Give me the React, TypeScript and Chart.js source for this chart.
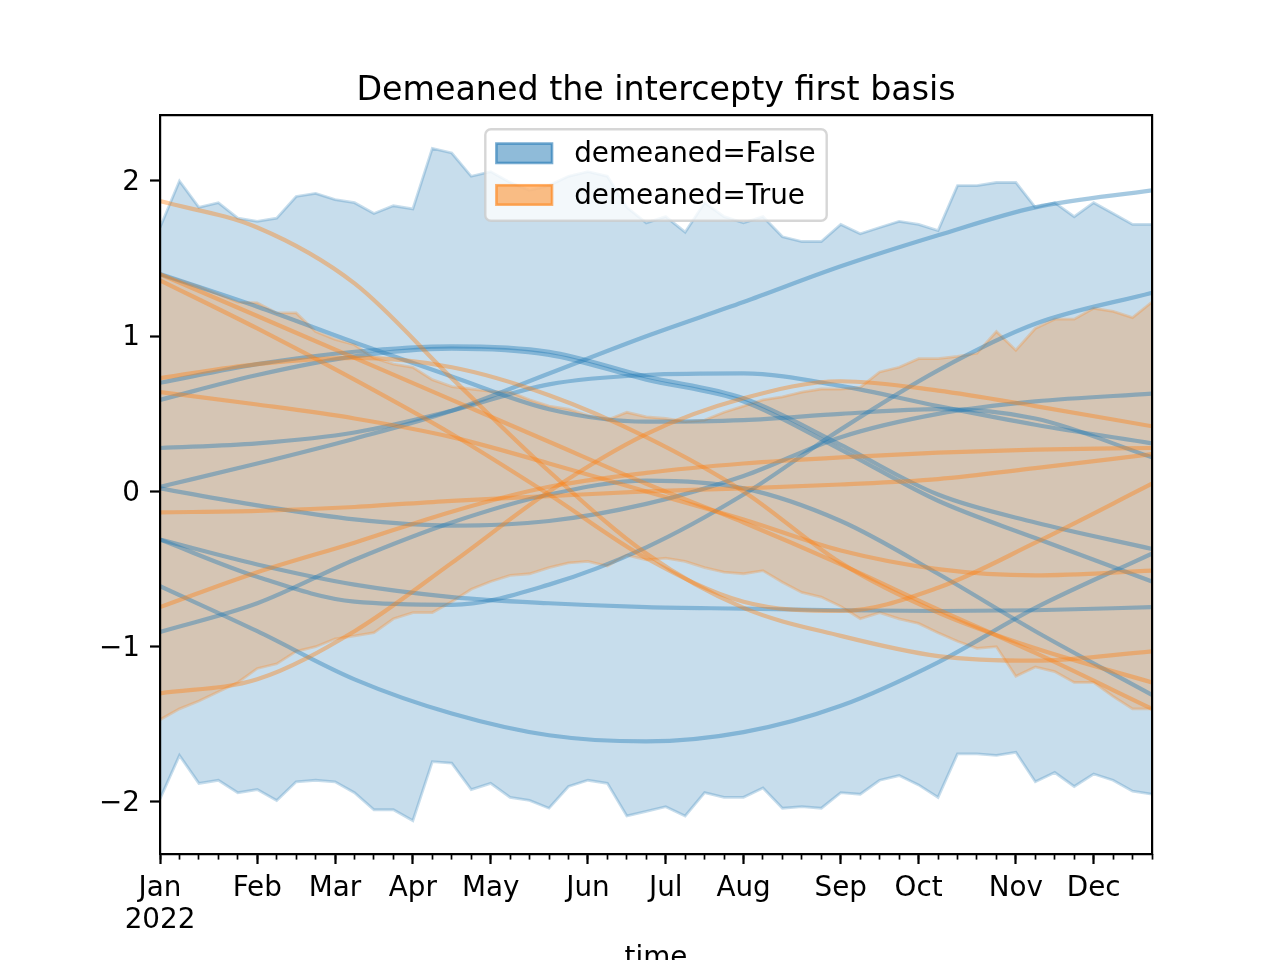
import React, { useEffect, useRef } from 'react';
import { Chart, registerables } from 'chart.js';

Chart.register(...registerables);

const FONT = "'DejaVu Sans', 'Liberation Sans', sans-serif";

// ---- axes / labels ----
const TITLE = 'Demeaned the intercepty first basis';
const X_LABEL = 'time';
const MONTH_TICKS = [0, 5, 9, 13, 17, 22, 26, 30, 35, 39, 44, 48];
const MONTH_LABELS = ['Jan', 'Feb', 'Mar', 'Apr', 'May', 'Jun', 'Jul', 'Aug', 'Sep', 'Oct', 'Nov', 'Dec'];
const YEAR_LABEL = '2022';
const Y_TICKS = [-2, -1, 0, 1, 2];
const LEGEND_LABELS = ['demeaned=False', 'demeaned=True'];

// ---- bands (weekly, 52 weeks) ----
const blueUpper = [1.70, 2.00, 1.83, 1.86, 1.76, 1.74, 1.76, 1.90, 1.92, 1.88, 1.86, 1.79, 1.84, 1.82, 2.21, 2.18, 2.03, 2.06, 1.99, 1.94, 1.97, 2.03, 2.06, 2.03, 1.83, 1.73, 1.77, 1.67, 1.86, 1.77, 1.73, 1.77, 1.64, 1.61, 1.61, 1.72, 1.66, 1.70, 1.74, 1.72, 1.68, 1.97, 1.97, 1.99, 1.99, 1.83, 1.86, 1.77, 1.86, 1.79, 1.72, 1.72];
const blueLower = [-1.98, -1.70, -1.88, -1.86, -1.94, -1.92, -1.99, -1.87, -1.86, -1.87, -1.94, -2.05, -2.05, -2.12, -1.74, -1.75, -1.92, -1.88, -1.97, -1.99, -2.04, -1.90, -1.86, -1.88, -2.09, -2.06, -2.03, -2.09, -1.94, -1.97, -1.97, -1.91, -2.04, -2.03, -2.04, -1.94, -1.95, -1.86, -1.83, -1.89, -1.97, -1.69, -1.69, -1.70, -1.68, -1.87, -1.81, -1.90, -1.82, -1.86, -1.93, -1.95];
const orangeUpper = [1.40, 1.36, 1.32, 1.27, 1.22, 1.215, 1.15, 1.15, 1.03, 0.98, 0.945, 0.86, 0.82, 0.80, 0.72, 0.675, 0.66, 0.645, 0.64, 0.59, 0.55, 0.53, 0.49, 0.46, 0.51, 0.48, 0.47, 0.45, 0.46, 0.51, 0.55, 0.59, 0.61, 0.64, 0.66, 0.66, 0.67, 0.77, 0.80, 0.855, 0.855, 0.87, 0.89, 1.03, 0.91, 1.05, 1.11, 1.11, 1.18, 1.16, 1.12, 1.22];
const orangeLower = [-1.47, -1.40, -1.35, -1.29, -1.23, -1.14, -1.11, -1.03, -1.00, -0.95, -0.93, -0.91, -0.82, -0.78, -0.78, -0.71, -0.63, -0.58, -0.54, -0.53, -0.49, -0.46, -0.45, -0.48, -0.41, -0.44, -0.43, -0.45, -0.49, -0.52, -0.53, -0.51, -0.585, -0.65, -0.68, -0.74, -0.82, -0.78, -0.82, -0.85, -0.91, -0.965, -1.01, -1.00, -1.19, -1.13, -1.16, -1.23, -1.23, -1.32, -1.40, -1.40];

// ---- sample curves, read at these weeks ----
const KNOTS = [0, 5, 10, 15, 20, 25, 30, 35, 40, 45, 51];

const blueLine1 = [0.03, 0.18, 0.34, 0.52, 0.76, 1.00, 1.22, 1.45, 1.65, 1.83, 1.94];
const blueLine2 = [0.28, 0.31, 0.38, 0.52, 0.69, 0.75, 0.76, 0.68, 0.55, 0.43, 0.31];
const blueLine3 = [1.40, 1.19, 0.96, 0.74, 0.53, 0.45, 0.46, 0.50, 0.53, 0.47, 0.22];
const blueLine4 = [0.70, 0.82, 0.90, 0.935, 0.90, 0.74, 0.60, 0.30, -0.02, -0.20, -0.37];
const blueLine5 = [0.59, 0.75, 0.87, 0.92, 0.88, 0.72, 0.58, 0.27, -0.06, -0.30, -0.58];
const blueLine6 = [0.02, -0.09, -0.18, -0.22, -0.19, -0.08, 0.10, 0.35, 0.50, 0.58, 0.63];
const blueLine7 = [-0.31, -0.55, -0.71, -0.73, -0.60, -0.36, -0.02, 0.40, 0.78, 1.08, 1.28];
const blueLine8 = [-0.31, -0.47, -0.60, -0.68, -0.72, -0.745, -0.755, -0.765, -0.77, -0.765, -0.745];
const blueLine9 = [-0.61, -0.90, -1.21, -1.43, -1.57, -1.61, -1.55, -1.38, -1.10, -0.75, -0.40];
const blueLine10 = [-0.905, -0.72, -0.44, -0.20, -0.02, 0.07, 0.02, -0.19, -0.53, -0.90, -1.31];

const orangeLine1 = [1.87, 1.70, 1.34, 0.73, 0.13, -0.40, -0.75, -0.93, -1.06, -1.09, -1.03];
const orangeLine2 = [1.40, 1.13, 0.86, 0.59, 0.32, 0.05, -0.20, -0.47, -0.76, -1.04, -1.40];
const orangeLine3 = [1.36, 1.05, 0.72, 0.37, -0.02, -0.43, -0.71, -0.77, -0.62, -0.33, 0.05];
const orangeLine4 = [0.73, 0.82, 0.86, 0.80, 0.62, 0.35, 0.00, -0.46, -0.78, -1.01, -1.23];
const orangeLine5 = [0.64, 0.56, 0.47, 0.35, 0.18, 0.00, -0.18, -0.38, -0.50, -0.54, -0.51];
const orangeLine6 = [-0.135, -0.125, -0.10, -0.06, -0.03, 0.00, 0.02, 0.045, 0.08, 0.15, 0.24];
const orangeLine7 = [-0.745, -0.52, -0.33, -0.13, 0.03, 0.12, 0.18, 0.22, 0.25, 0.27, 0.28];
const orangeLine8 = [-1.30, -1.21, -0.90, -0.46, 0.00, 0.37, 0.60, 0.71, 0.65, 0.55, 0.42];

const BLUE_LINES = [blueLine1, blueLine2, blueLine3, blueLine4, blueLine5, blueLine6, blueLine7, blueLine8, blueLine9, blueLine10];
const ORANGE_LINES = [orangeLine1, orangeLine2, orangeLine3, orangeLine4, orangeLine5, orangeLine6, orangeLine7, orangeLine8];

const BLUE = '31,119,180';
const ORANGE = '255,127,14';

const legendPlugin = {
  id: 'mplLegend',
  afterDraw(chart: any) {
    const { ctx, chartArea } = chart;
    const fs = 27.8;
    ctx.save();
    ctx.font = `${fs}px ${FONT}`;
    const textW = Math.max(...LEGEND_LABELS.map((l) => ctx.measureText(l).width));
    const pad = 11.1;
    const handleLen = 55.6;
    const handleH = 19.4;
    const textPad = 22.2;
    const boxW = pad + handleLen + textPad + textW + pad;
    const cx = (chartArea.left + chartArea.right) / 2;
    const left = cx - boxW / 2;
    const top = chartArea.top + 14.3;
    const boxH = 91.5;
    const r = 5.6;
    ctx.beginPath();
    ctx.moveTo(left + r, top);
    ctx.lineTo(left + boxW - r, top);
    ctx.arcTo(left + boxW, top, left + boxW, top + r, r);
    ctx.lineTo(left + boxW, top + boxH - r);
    ctx.arcTo(left + boxW, top + boxH, left + boxW - r, top + boxH, r);
    ctx.lineTo(left + r, top + boxH);
    ctx.arcTo(left, top + boxH, left, top + boxH - r, r);
    ctx.lineTo(left, top + r);
    ctx.arcTo(left, top, left + r, top, r);
    ctx.closePath();
    ctx.fillStyle = 'rgba(255,255,255,0.8)';
    ctx.fill();
    ctx.strokeStyle = 'rgba(204,204,204,0.8)';
    ctx.lineWidth = 2.4;
    ctx.stroke();
    const colors = [BLUE, ORANGE];
    LEGEND_LABELS.forEach((label, i) => {
      const cy = top + 24 + i * 41.7;
      ctx.fillStyle = `rgba(${colors[i]},0.5)`;
      ctx.fillRect(left + pad, cy - handleH / 2, handleLen, handleH);
      ctx.strokeStyle = `rgba(${colors[i]},0.6)`;
      ctx.lineWidth = 2.6;
      ctx.strokeRect(left + pad, cy - handleH / 2, handleLen, handleH);
      ctx.fillStyle = '#000';
      ctx.textBaseline = 'alphabetic';
      ctx.textAlign = 'left';
      ctx.fillText(label, left + pad + handleLen + textPad, cy + 9);
    });
    ctx.restore();
  },
};

export default function App() {
  const ref = useRef<HTMLCanvasElement>(null);

  useEffect(() => {
    const canvas = ref.current;
    if (!canvas) return;
    Chart.defaults.font.family = FONT;
    Chart.defaults.color = '#000';

    const weekly = (vals: number[]) => vals.map((y, i) => ({ x: i, y }));
    const knotted = (vals: number[]) => vals.map((y, i) => ({ x: KNOTS[i], y }));

    const band = (vals: number[], rgb: string, order: number, fill: any) => ({
      type: 'line',
      data: weekly(vals),
      borderColor: `rgba(${rgb},0.25)`,
      backgroundColor: `rgba(${rgb},0.25)`,
      borderWidth: 2.8,
      pointRadius: 0,
      tension: 0,
      fill,
      order,
      clip: 0,
    });

    const line = (vals: number[], rgb: string, order: number) => ({
      type: 'line',
      data: knotted(vals),
      borderColor: `rgba(${rgb},0.4)`,
      backgroundColor: `rgba(${rgb},0.4)`,
      borderWidth: 4.2,
      pointRadius: 0,
      cubicInterpolationMode: 'monotone',
      fill: false,
      order,
      clip: 0,
    });

    const datasets: any[] = [
      band(blueUpper, BLUE, 5, '+1'),
      band(blueLower, BLUE, 5, false),
      band(orangeUpper, ORANGE, 4, '+1'),
      band(orangeLower, ORANGE, 4, false),
      ...BLUE_LINES.map((v) => line(v, BLUE, 2)),
      ...ORANGE_LINES.map((v) => line(v, ORANGE, 1)),
    ];

    const tickFont = { size: 27.8, family: FONT, lineHeight: 1.15 };

    const chart = new Chart(canvas, {
      type: 'line',
      data: { datasets },
      options: {
        animation: false,
        responsive: false,
        devicePixelRatio: 1,
        events: [],
        layout: { padding: { left: 0, top: 0, right: 128, bottom: 0 } },
        plugins: {
          legend: { display: false },
          tooltip: { enabled: false },
          title: {
            display: true,
            text: TITLE,
            fullSize: false,
            color: '#000',
            font: { size: 33.3, weight: 'normal', family: FONT, lineHeight: 1.2 },
            padding: { top: 71, bottom: 4 },
          },
        },
        scales: {
          x: {
            type: 'linear',
            position: 'bottom',
            weight: 1,
            min: 0,
            max: 51,
            afterBuildTicks: (s: any) => {
              s.ticks = MONTH_TICKS.map((v) => ({ value: v }));
            },
            afterFit: (s: any) => {
              s.height = 146;
            },
            ticks: {
              autoSkip: false,
              maxRotation: 0,
              minRotation: 0,
              padding: 9,
              color: '#000',
              font: tickFont,
              callback: (value: any) => {
                const idx = MONTH_TICKS.indexOf(Number(value));
                if (idx < 0) return '';
                return idx === 0 ? [MONTH_LABELS[0], YEAR_LABEL] : MONTH_LABELS[idx];
              },
            },
            grid: { display: true, drawOnChartArea: false, drawTicks: true, tickLength: 10, tickWidth: 2.2, tickColor: '#000' },
            border: { display: true, color: '#000', width: 2.2, z: 1 },
            title: {
              display: true,
              text: X_LABEL,
              color: '#000',
              font: { size: 27.8, family: FONT, lineHeight: 1.2 },
              padding: { top: 0, bottom: 25 },
            },
          },
          xMinor: {
            type: 'linear',
            position: 'bottom',
            weight: 0,
            min: 0,
            max: 51,
            afterBuildTicks: (s: any) => {
              s.ticks = blueUpper.map((_, i) => ({ value: i }));
            },
            afterFit: (s: any) => {
              s.height = 0;
            },
            ticks: { display: false, autoSkip: false },
            grid: { display: true, drawOnChartArea: false, drawTicks: true, tickLength: 5.6, tickWidth: 1.7, tickColor: '#000' },
            border: { display: false },
          },
          xTop: {
            type: 'linear',
            position: 'top',
            min: 0,
            max: 51,
            afterFit: (s: any) => {
              s.height = 0;
            },
            ticks: { display: false },
            grid: { display: false, drawTicks: false },
            border: { display: true, color: '#000', width: 2.2, z: 1 },
          },
          y: {
            type: 'linear',
            position: 'left',
            min: -2.335,
            max: 2.425,
            afterBuildTicks: (s: any) => {
              s.ticks = Y_TICKS.map((v) => ({ value: v }));
            },
            afterFit: (s: any) => {
              s.width = 160;
            },
            ticks: {
              padding: 10,
              labelOffset: 2,
              color: '#000',
              font: { size: 27.8, family: FONT },
              callback: (value: any) => {
                const v = Number(value);
                return v < 0 ? '\u2212' + Math.abs(v) : String(v);
              },
            },
            grid: { display: true, drawOnChartArea: false, drawTicks: true, tickLength: 10, tickWidth: 2.2, tickColor: '#000' },
            border: { display: true, color: '#000', width: 2.2, z: 1 },
          },
          yRight: {
            type: 'linear',
            position: 'right',
            min: -2.335,
            max: 2.425,
            afterFit: (s: any) => {
              s.width = 0;
            },
            ticks: { display: false },
            grid: { display: false, drawTicks: false },
            border: { display: true, color: '#000', width: 2.2, z: 1 },
          },
        },
      } as any,
      plugins: [legendPlugin],
    });

    return () => chart.destroy();
  }, []);

  return (
    <div style={{ position: 'absolute', left: 0, top: 0, width: 1280, height: 960, overflow: 'hidden', background: '#fff' }}>
      <canvas ref={ref} width={1280} height={1000} style={{ display: 'block', width: 1280, height: 1000 }} />
    </div>
  );
}
